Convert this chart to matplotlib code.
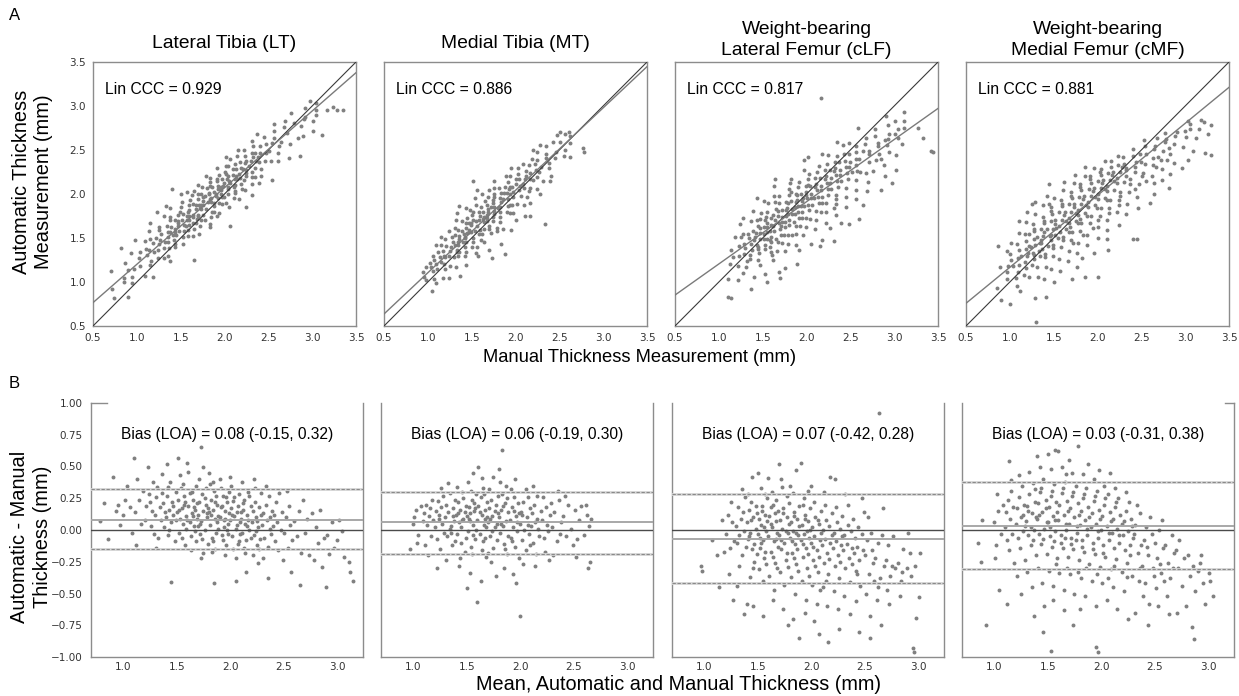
import numpy as np
import matplotlib
matplotlib.use("Agg")
import matplotlib.pyplot as plt

# ---------------- data ----------------
regions = ["Lateral Tibia (LT)", "Medial Tibia (MT)",
           "Weight-bearing\nLateral Femur (cLF)", "Weight-bearing\nMedial Femur (cMF)"]
lin_ccc = [0.929, 0.886, 0.817, 0.881]
reg_slope = [0.871, 0.937, 0.707, 0.818]
reg_intercept = [0.330, 0.168, 0.498, 0.349]
bias_text = [0.08, 0.06, 0.07, 0.03]
bias_line = [0.08, 0.06, -0.07, 0.03]
loa_low = [-0.15, -0.19, -0.42, -0.31]
loa_high = [0.32, 0.30, 0.28, 0.38]
top_ticks = [0.5, 1.0, 1.5, 2.0, 2.5, 3.0, 3.5]
ba_xticks = [1.0, 1.5, 2.0, 2.5, 3.0]
ba_yticks = [-1.0, -0.75, -0.5, -0.25, 0.0, 0.25, 0.5, 0.75, 1.0]

# points: (mean, difference) in hundredths of mm
lt_pts = [(78,7),(82,21),(86,-7),(91,42),(93,15),(95,20),(97,4),(100,12),(102,24),(104,35),(106,18),(108,-2),
(110,57),(111,14),(113,40),(115,24),(117,5),(119,31),(112,-12),(120,8),(121,19),(123,50),(124,28),(126,3),(127,15),(128,38),(129,-3),(125,22),
(130,12),(131,26),(132,34),(133,-6),(134,18),(135,8),(136,44),(137,21),(138,2),(139,14),(131,-14),(136,29),
(140,10),(141,27),(142,-4),(143,16),(144,38),(145,6),(146,22),(147,12),(148,-9),(149,30),(145,-41),(141,52),(143,0),(147,19),(149,8),(142,34),
(150,14),(151,24),(152,-2),(153,9),(154,33),(155,17),(156,5),(157,27),(158,-12),(159,11),(151,57),(153,43),(155,-6),(157,20),(159,1),(152,16),(156,36),(158,22),
(160,8),(161,19),(162,29),(163,-5),(164,13),(165,24),(166,3),(167,16),(168,35),(169,9),(161,46),(163,-16),(165,11),(167,-1),(169,21),(162,6),(164,30),(166,18),(168,-9),(160,53),
(170,12),(171,22),(172,-3),(173,7),(174,28),(175,15),(176,0),(177,20),(178,10),(179,-11),(171,40),(173,65),(175,-18),(177,33),(179,17),(172,5),(174,-7),(176,25),(178,13),(170,3),(175,50),(173,-22),
(180,14),(181,4),(182,24),(183,-6),(184,16),(185,31),(186,9),(187,-2),(188,20),(189,11),(181,36),(183,-17),(185,-42),(187,27),(189,1),(182,12),(184,-9),(186,22),(188,6),(180,45),(186,-15),(184,38),
(190,10),(191,18),(192,-4),(193,27),(194,8),(195,15),(196,-12),(197,22),(198,5),(199,13),(191,33),(193,-8),(195,-20),(197,0),(199,30),(192,19),(194,2),(196,26),(198,-3),(190,40),(195,9),
(200,8),(201,17),(202,-5),(203,23),(204,11),(205,1),(206,14),(207,-11),(208,28),(209,6),(201,35),(203,-15),(205,-22),(207,19),(209,-3),(202,12),(204,26),(206,4),(208,-9),(200,42),(205,-40),
(210,9),(211,-2),(212,16),(213,24),(214,5),(215,-8),(216,12),(217,30),(218,0),(219,19),(211,38),(213,-14),(215,-33),(217,8),(219,-6),(212,21),(214,-18),(216,3),(218,27),(210,14),
(220,6),(221,15),(222,-4),(223,22),(224,10),(225,-12),(226,2),(227,18),(228,-7),(229,29),(221,-20),(223,33),(225,7),(227,-15),(229,12),(222,40),(224,-1),(226,-26),
(230,4),(231,13),(232,-6),(233,20),(234,8),(235,-13),(236,27),(237,1),(238,-3),(239,15),(231,-22),(233,35),(235,-38),(237,10),
(240,3),(241,12),(242,-9),(243,22),(244,6),(245,-16),(246,29),(247,0),(248,14),(249,-24),
(250,-2),(252,10),(254,-14),(255,19),(256,4),(258,-8),(253,31),(257,-33),(260,7),(262,-5),(264,15),(266,-18),(265,-43),(268,24),
(270,-2),(272,9),(274,-20),(276,13),(278,-24),(280,2),(282,-10),(284,16),(286,-29),(288,-6),
(290,-4),(292,-19),(289,-45),(295,6),(297,-14),(300,-8),(302,8),(304,-1),(306,-21),(311,-25),(312,-33),(315,-40)]

mt_pts = [(97,-15),(100,5),(101,10),(103,16),(105,-4),(107,19),(109,7),(104,-10),
(110,13),(111,-12),(112,20),(113,4),(114,-20),(115,11),(116,17),(117,-5),(118,24),(119,8),
(120,2),(121,15),(122,-7),(123,23),(124,9),(125,-15),(126,18),(127,5),(128,27),(129,-2),(122,-30),(126,33),(124,12),
(130,10),(131,20),(132,-5),(133,14),(134,29),(135,3),(136,-12),(137,17),(138,7),(139,24),(131,-24),(133,37),(135,-2),(137,11),(139,-9),(134,1),
(140,12),(141,-3),(142,22),(143,6),(144,16),(145,-10),(146,30),(147,9),(148,-17),(149,19),(141,34),(143,-28),(145,2),(147,25),(149,-6),(142,13),(144,-22),(146,8),(148,14),
(150,11),(151,-1),(152,18),(153,7),(154,-13),(155,24),(156,4),(157,15),(158,-7),(159,28),(151,38),(153,-34),(155,-19),(157,21),(159,0),(152,9),(154,31),(156,-4),(158,17),(150,-46),(156,45),(153,13),
(160,8),(161,19),(162,-3),(163,26),(164,12),(165,-9),(166,4),(167,16),(168,-21),(169,22),(161,50),(163,-40),(165,33),(167,-6),(169,10),(162,14),(164,-16),(166,28),(168,2),(160,-57),(164,41),(167,9),
(170,6),(171,17),(172,-5),(173,24),(174,11),(175,-14),(176,2),(177,20),(178,-8),(179,13),(171,32),(173,-25),(175,42),(177,-36),(179,27),(172,9),(174,-1),(176,15),(178,5),(170,-18),
(180,10),(181,-2),(182,16),(183,28),(184,3),(185,-11),(186,21),(187,7),(188,-19),(189,14),(181,38),(183,63),(185,-30),(187,35),(189,-5),(182,5),(184,19),(186,-15),(188,25),(180,48),
(190,8),(191,-6),(192,18),(193,2),(194,26),(195,-13),(196,11),(197,-1),(198,21),(199,-22),(191,32),(193,-35),(195,40),(197,6),(199,13),(192,-9),(194,15),(196,-42),
(200,5),(201,14),(202,-8),(203,22),(204,0),(205,-16),(206,10),(207,26),(208,-3),(209,17),(200,-68),(203,-27),(205,32),(207,4),(209,-12),(202,12),
(210,3),(211,13),(212,-10),(213,20),(214,6),(215,-19),(216,27),(217,1),(218,-5),(219,15),(212,35),(214,-28),(216,9),
(220,8),(222,-6),(224,18),(226,-1),(228,12),(221,26),(223,-17),(225,4),(227,-24),(229,21),
(230,2),(232,14),(234,-9),(236,24),(238,6),(231,-20),(235,31),(237,-3),
(240,11),(243,-5),(245,20),(247,1),(249,-12),(242,27),(251,16),(253,-7),(255,8),(257,19),(252,-21),
(260,-4),(262,12),(264,3),(265,-25),(263,-30),(266,9),(261,20)]

clf_pts = [(97,-28),(98,-32),(107,-8),(112,-20),(114,-45),(117,8),(119,-17),
(120,-3),(122,12),(124,-14),(126,6),(128,-9),(123,-35),(127,-55),(125,22),
(130,3),(131,-10),(132,18),(133,-4),(134,9),(135,-20),(136,14),(137,-1),(138,26),(139,-13),(131,-44),(135,32),(137,-66),(133,-28),
(140,6),(141,-7),(142,16),(143,-2),(144,22),(145,-15),(146,10),(147,-25),(148,1),(149,13),(141,28),(143,-37),(145,42),(147,-11),(149,-19),(142,-5),(144,8),(146,-30),(148,19),(140,-58),(146,-60),
(150,-3),(151,9),(152,-14),(153,4),(154,19),(155,-8),(156,-22),(157,12),(158,-1),(159,25),(151,-31),(153,33),(155,-40),(157,-17),(159,7),(152,-6),(154,15),(156,2),(158,-27),(150,45),(155,-68),(157,28),(153,-10),
(160,-5),(161,11),(162,-17),(163,2),(164,20),(165,-9),(166,-26),(167,7),(168,-2),(169,15),(161,-36),(163,30),(165,-47),(167,24),(169,-13),(162,5),(164,-21),(166,13),(168,-30),(160,41),(164,-55),(167,-7),(162,18),
(170,-4),(171,8),(172,-15),(173,1),(174,17),(175,-10),(176,-24),(177,10),(178,-2),(179,21),(171,-33),(173,34),(175,-43),(177,-18),(179,5),(172,-8),(174,13),(176,-1),(178,-29),(170,52),(174,-62),(177,27),(172,40),(178,-75),
(180,-6),(181,6),(182,-18),(183,-1),(184,14),(185,-11),(186,-27),(187,9),(188,-4),(189,19),(181,-37),(183,29),(185,-50),(187,-15),(189,3),(182,-9),(184,11),(186,-2),(188,-32),(180,35),(183,-70),(186,47),(184,-22),(189,-85),
(190,-8),(191,4),(192,-21),(193,-3),(194,12),(195,-14),(196,-30),(197,7),(198,-6),(199,17),(191,-40),(193,25),(195,-55),(197,-19),(199,0),(192,-11),(194,9),(196,-1),(198,-36),(190,53),(194,-65),(197,31),(192,20),
(200,-10),(201,2),(202,-24),(203,-5),(204,10),(205,-16),(206,-33),(207,5),(208,-8),(209,15),(201,-43),(203,22),(205,-58),(207,-21),(209,-2),(202,-13),(204,-28),(206,8),(208,-47),(200,35),(203,-72),(207,-82),
(210,-12),(211,0),(212,-26),(213,-7),(214,8),(215,-18),(216,-35),(217,3),(218,-10),(219,13),(211,-45),(213,20),(215,-60),(217,-23),(219,-4),(212,30),(214,-40),(216,-88),(218,42),
(220,-14),(221,-2),(222,-28),(223,-9),(224,6),(225,-20),(226,-38),(227,1),(228,-12),(229,11),(221,-48),(223,18),(225,-62),(227,-25),(229,-5),(222,40),(226,-78),
(230,-16),(231,-4),(232,-30),(233,-11),(234,4),(235,-22),(236,-41),(237,-1),(238,-14),(239,9),(231,-52),(234,20),(236,-66),(238,-27),(232,28),
(240,-18),(241,-6),(242,-32),(243,-13),(244,2),(245,-24),(246,-44),(247,-3),(248,-16),(249,14),(242,-56),(245,-80),(247,25),(243,-35),
(250,-20),(252,-8),(254,-35),(256,-2),(258,-26),(251,-50),(253,10),(255,-68),(257,-16),(259,-40),(255,-85),
(260,-22),(262,-10),(264,-38),(266,-4),(268,-28),(261,-55),(263,92),(265,-75),(267,17),(262,-45),
(270,-24),(272,-12),(274,-36),(276,-5),(278,-30),(273,-58),(275,-28),(271,-47),
(281,-26),(284,-40),(286,-15),(289,-30),(283,-52),(285,-33),
(290,-2),(292,-18),(293,-36),(297,-28),(295,-93),(296,-96),(298,-69),(302,-18),(301,-53)]

cmf_pts = [(85,-10),(88,-25),(89,8),(92,-75),(100,6),(102,-12),(104,15),(106,-3),(108,20),(101,-22),(105,-47),(103,28),
(110,2),(111,14),(112,-8),(113,24),(114,-16),(115,9),(116,31),(117,-3),(118,18),(119,-26),(112,-58),(116,39),(114,54),
(120,5),(121,17),(122,-6),(123,26),(124,-14),(125,10),(126,35),(127,-1),(128,20),(129,-24),(121,-36),(123,43),(125,-50),(127,12),(129,3),
(130,7),(131,19),(132,-4),(133,28),(134,-12),(135,13),(136,37),(137,0),(138,22),(139,-20),(131,-33),(133,46),(135,-45),(137,-68),(139,10),(132,15),(134,2),(136,-8),(138,32),
(140,9),(141,21),(142,-3),(143,30),(144,-11),(145,14),(146,40),(147,1),(148,24),(149,-19),(141,-30),(143,50),(145,-42),(147,-60),(149,6),(142,12),(144,33),(146,-7),(148,17),(140,58),(146,-80),
(150,6),(151,18),(152,-5),(153,27),(154,-13),(155,11),(156,36),(157,-1),(158,22),(159,-22),(151,-32),(153,48),(155,-44),(157,8),(159,14),(152,2),(154,31),(156,-9),(158,-27),(150,60),(153,-95),(157,63),(155,-55),
(160,8),(161,20),(162,-4),(163,29),(164,-14),(165,12),(166,38),(167,0),(168,23),(169,-21),(161,-34),(163,50),(165,-47),(167,5),(169,15),(162,-10),(164,33),(166,-6),(168,-30),(160,62),(165,-63),(167,44),
(170,5),(171,17),(172,-6),(173,27),(174,-15),(175,10),(176,35),(177,-2),(178,21),(179,-24),(171,-35),(173,45),(175,-50),(177,3),(179,12),(172,-11),(174,30),(176,-8),(178,-33),(170,55),(174,-75),(178,66),
(180,4),(181,15),(182,-8),(183,25),(184,-17),(185,8),(186,33),(187,-4),(188,18),(189,-27),(181,-38),(183,44),(185,-52),(187,1),(189,10),(182,-13),(184,28),(186,-30),(188,52),(180,-62),
(190,2),(191,13),(192,-10),(193,23),(194,-19),(195,5),(196,31),(197,-6),(198,16),(199,-29),(191,-40),(193,40),(195,-60),(197,-1),(199,9),(192,-15),(194,27),(196,-35),(198,47),(195,-92),(197,-96),
(200,0),(201,11),(202,-12),(203,20),(204,-21),(205,3),(206,28),(207,-8),(208,14),(209,-31),(201,-42),(203,35),(205,-55),(207,-2),(209,7),(202,-18),(204,25),(206,-38),(208,45),
(210,-2),(211,9),(212,-14),(213,18),(214,-23),(215,1),(216,25),(217,-10),(218,12),(219,-33),(211,-45),(213,33),(215,-62),(217,-4),(219,5),(212,-28),(214,22),
(220,-4),(221,7),(222,-16),(223,15),(224,-26),(225,-1),(226,22),(227,-12),(228,9),(229,-36),(221,-48),(223,30),(225,-70),(227,-20),(229,3),(224,-37),
(230,-6),(232,4),(234,-18),(236,13),(238,-28),(231,-3),(233,20),(235,-40),(237,-12),(239,-52),(232,-65),(236,-30),
(240,-8),(242,2),(244,-20),(246,10),(248,-30),(241,-42),(243,-13),(245,-58),(247,-3),(249,-36),(244,-75),
(250,-10),(252,-22),(254,0),(256,-34),(258,-14),(251,-46),(253,-60),(255,-27),(257,8),(259,-40),
(260,-12),(262,-26),(264,-38),(266,-4),(268,-18),(261,-52),(263,-66),(267,-30),
(270,-16),(272,-30),(275,-44),(277,-22),(279,-60),(273,-8),(271,-65),
(281,-20),(283,-36),(286,-28),(288,-48),(285,-76),(287,-86),
(290,-32),(293,-20),(295,-42),(297,-58),(292,-26),(302,-40),(304,-52),(301,-34)]

all_pts = [lt_pts, mt_pts, clf_pts, cmf_pts]

# ---------------- figure ----------------
W, H = 1239, 696
fig = plt.figure(figsize=(W / 100, H / 100), dpi=100)
SANS = ["Liberation Sans", "DejaVu Sans"]
TICKF = "DejaVu Sans"
PT_COLOR = "#808080"
SPINE = "#8c8c8c"
MS = 8


def px_axes(x0, y0, x1, y1):
    return fig.add_axes([x0 / W, 1 - y1 / H, (x1 - x0) / W, (y1 - y0) / H])


top_left = [93, 384, 675, 966]
bot_left = [91, 381, 672, 962]

for i in range(4):
    pts = np.array(all_pts[i], dtype=float) / 100.0
    mean, diff = pts[:, 0], pts[:, 1]
    manual = mean - diff / 2
    auto = mean + diff / 2

    # ---- top: agreement scatter ----
    ax = px_axes(top_left[i], 62, top_left[i] + 263, 326)
    ax.scatter(manual, auto, s=MS, c=PT_COLOR, linewidths=0, zorder=2)
    ax.axline((0.5, 0.5), slope=1.0, color="#3a3a3a", lw=0.8, zorder=3)
    ax.axline((0.0, reg_intercept[i]), slope=reg_slope[i], color="#7a7a7a", lw=1.0, zorder=3)
    ax.set_xlim(0.5, 3.5)
    ax.set_ylim(0.5, 3.5)
    ax.set_xticks(top_ticks)
    ax.set_yticks(top_ticks)
    ax.tick_params(length=0, labelsize=7.5, labelcolor="#333333", pad=5)
    for lab in ax.get_xticklabels() + ax.get_yticklabels():
        lab.set_family(TICKF)
    if i > 0:
        ax.set_yticklabels([])
    for sp in ax.spines.values():
        sp.set_color(SPINE)
        sp.set_linewidth(1.0)
    cx = (top_left[i] + 263 / 2) / W
    if "\n" in regions[i]:
        fig.text(cx, 1 - 40 / H, regions[i], fontsize=13.9, family=SANS,
                 ha="center", va="center", linespacing=1.3)
    else:
        fig.text(cx, 1 - 43 / H, regions[i], fontsize=13.9, family=SANS,
                 ha="center", va="center")
    ax.text(0.045, 0.895, f"Lin CCC = {lin_ccc[i]:.3f}", transform=ax.transAxes,
            fontsize=11.3, family=SANS, va="center", ha="left")

    # ---- bottom: Bland-Altman ----
    bx = px_axes(bot_left[i], 403, bot_left[i] + 272, 657)
    bx.scatter(mean, diff, s=MS, c=PT_COLOR, linewidths=0, zorder=2)
    bx.axhline(0.0, color="#4a4a4a", lw=1.0, zorder=3)
    bx.axhline(bias_line[i], color="#a8a8a8", lw=1.4, zorder=3)
    for v in (loa_low[i], loa_high[i]):
        bx.axhline(v, color="#d6d6d6", lw=2.0, zorder=3)
        bx.axhline(v, color="#8a8a8a", lw=0.8, ls=(0, (3, 1.5)), zorder=3)
    bx.set_xlim(0.70, 3.24)
    bx.set_ylim(-1.0, 1.0)
    bx.set_xticks(ba_xticks)
    bx.set_yticks(ba_yticks)
    bx.tick_params(length=0, labelsize=7.5, labelcolor="#333333")
    bx.tick_params(axis="x", pad=3.5)
    bx.tick_params(axis="y", pad=6)
    for lab in bx.get_xticklabels() + bx.get_yticklabels():
        lab.set_family(TICKF)
    if i > 0:
        bx.set_yticklabels([])
    for sp in bx.spines.values():
        sp.set_color(SPINE)
        sp.set_linewidth(1.0)
    if i == 0:
        bx.spines["top"].set_bounds(0.70, 0.85)
    elif i == 3:
        bx.spines["top"].set_bounds(3.16, 3.24)
    else:
        bx.spines["top"].set_visible(False)
    bx.text(0.5, 0.875, f"Bias (LOA) = {bias_text[i]:.2f} ({loa_low[i]:.2f}, {loa_high[i]:.2f})",
            transform=bx.transAxes, fontsize=11.2, family=SANS, ha="center", va="center")

# panel letters and shared axis labels
fig.text(9 / W, 1 - 15 / H, "A", fontsize=12, family=SANS, va="center", ha="left")
fig.text(9 / W, 1 - 384 / H, "B", fontsize=12, family=SANS, va="center", ha="left")
fig.text(33 / W, 1 - 182 / H, "Automatic Thickness\nMeasurement (mm)", rotation=90,
         fontsize=14.4, family=SANS, ha="center", va="center", linespacing=1.2)
fig.text(640 / W, 1 - 357 / H, "Manual Thickness Measurement (mm)",
         fontsize=13.2, family=SANS, ha="center", va="center")
fig.text(31 / W, 1 - 537 / H, "Automatic - Manual\nThickness (mm)", rotation=90,
         fontsize=14.4, family=SANS, ha="center", va="center", linespacing=1.2)
fig.text(679 / W, 1 - 685 / H, "Mean, Automatic and Manual Thickness (mm)",
         fontsize=14.3, family=SANS, ha="center", va="center")

fig.savefig("out.png", dpi=100, facecolor="white")
